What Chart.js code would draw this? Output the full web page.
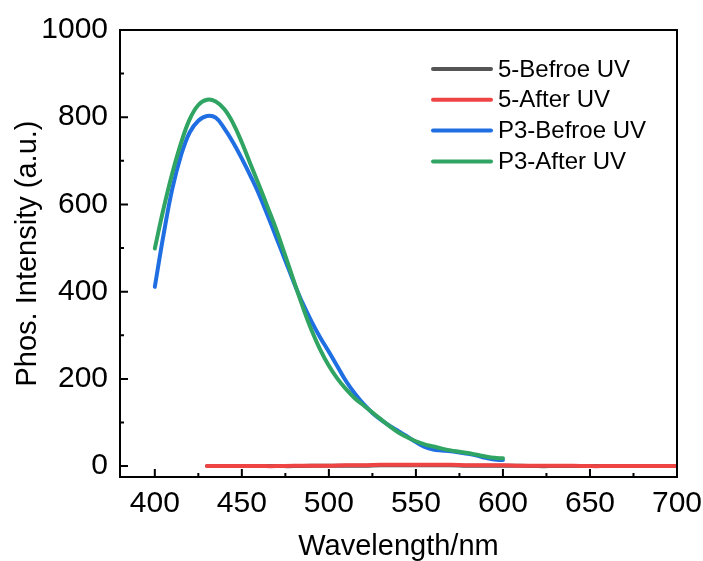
<!DOCTYPE html>
<html>
<head>
<meta charset="utf-8">
<script src="https://cdn.jsdelivr.net/npm/chart.js@4.4.0/dist/chart.umd.min.js"></script>
<style>
  html, body { margin: 0; padding: 0; background: #ffffff; }
  #wrap { width: 703px; height: 561px; position: relative; }
</style>
</head>
<body>
<div id="wrap"><canvas id="c" width="703" height="561"></canvas></div>
<script>
// ---- data ----
const seriesNames = ['5-Befroe UV', '5-After UV', 'P3-Befroe UV', 'P3-After UV'];
const seriesColors = ['#555555', '#ef4444', '#1f6fe3', '#30a462'];

const wl5 = [430, 440, 450, 460, 470, 480, 490, 500, 510, 520, 530, 540, 550, 560, 570, 580, 590, 600, 610, 620, 630, 640, 650, 660, 670, 680, 690, 700];
const before5 = [0, 0, 0, 0, 0, 0, 1, 1, 1, 1, 2, 2, 2, 2, 2, 1, 1, 1, 1, 0, 0, 0, 0, 0, 0, 0, 0, 0];
const after5  = [0, 0, 0, 0, 0, 1, 1, 1, 2, 2, 3, 3, 3, 3, 3, 2, 2, 2, 1, 1, 1, 1, 0, 0, 0, 0, 0, 0];

const wlP3 = [400, 405, 410, 415, 420, 425, 430, 435, 440, 445, 450, 455, 460, 465, 470, 475, 480, 485, 490, 495, 500, 505, 510, 515, 520, 525, 530, 535, 540, 545, 550, 555, 560, 565, 570, 575, 580, 585, 590, 595, 600];
const beforeP3 = [411, 530, 635, 712, 765, 792, 803, 799, 774, 742, 705, 665, 622, 573, 522, 471, 420, 373, 332, 295, 262, 228, 194, 166, 142, 122, 106, 92, 80, 68, 55, 44, 38, 36, 34, 31, 28, 24, 19, 15, 14];
const afterP3  = [499, 590, 671, 740, 795, 828, 840, 836, 818, 786, 742, 692, 643, 592, 540, 482, 423, 365, 312, 267, 230, 200, 176, 155, 139, 123, 107, 91, 77, 66, 57, 50, 45, 40, 36, 33, 30, 26, 22, 19, 18];

const xTickValues = [400, 450, 500, 550, 600, 650, 700];
const xMinorValues = [425, 475, 525, 575, 625, 675];
const yTickValues = [0, 200, 400, 600, 800, 1000];
const yMinorValues = [100, 300, 500, 700, 900];
const xTitle = 'Wavelength/nm';
const yTitle = 'Phos. Intensity (a.u.)';

// ---- build ----
const toPts = (xs, ys) => xs.map((x, i) => ({ x: x, y: ys[i] }));
const seriesX = [wl5, wl5, wlP3, wlP3];
const seriesY = [before5, after5, beforeP3, afterP3];
const drawOrder = [4, 3, 2, 1];

const FONT = "'Liberation Sans', Arial, sans-serif";

const datasets = seriesNames.map((name, i) => ({
  label: name,
  data: toPts(seriesX[i], seriesY[i]),
  borderColor: seriesColors[i],
  backgroundColor: seriesColors[i],
  borderWidth: 4,
  pointRadius: 0,
  fill: false,
  tension: 0.4,
  borderCapStyle: 'round',
  borderJoinStyle: 'round',
  order: drawOrder[i]
}));

const framePlugin = {
  id: 'frame',
  afterDatasetsDraw(chart) {
    const { ctx, chartArea: a, scales } = chart;
    ctx.save();
    ctx.strokeStyle = '#000';
    ctx.lineWidth = 2;
    ctx.lineCap = 'butt';
    const xs = scales.x, ys = scales.y;
    ctx.beginPath();
    xTickValues.forEach(v => { const p = xs.getPixelForValue(v); ctx.moveTo(p, a.bottom); ctx.lineTo(p, a.bottom - 8); });
    xMinorValues.forEach(v => { const p = xs.getPixelForValue(v); ctx.moveTo(p, a.bottom); ctx.lineTo(p, a.bottom - 4); });
    yTickValues.forEach(v => { const p = ys.getPixelForValue(v); ctx.moveTo(a.left, p); ctx.lineTo(a.left + 8, p); });
    yMinorValues.forEach(v => { const p = ys.getPixelForValue(v); ctx.moveTo(a.left, p); ctx.lineTo(a.left + 4, p); });
    ctx.stroke();
    ctx.strokeRect(a.left, a.top, a.right - a.left, a.bottom - a.top);

    // legend
    ctx.font = '24px ' + FONT;
    ctx.textBaseline = 'middle';
    ctx.textAlign = 'left';
    chart.data.datasets.forEach((ds, i) => {
      const y = a.top + 39 + i * 30.8;
      const x0 = a.left + 313;
      ctx.strokeStyle = ds.borderColor;
      ctx.lineWidth = 4;
      ctx.lineCap = 'round';
      ctx.beginPath();
      ctx.moveTo(x0, y);
      ctx.lineTo(x0 + 58, y);
      ctx.stroke();
      ctx.fillStyle = '#000';
      ctx.fillText(ds.label, x0 + 65, y + 1);
    });
    ctx.restore();
  }
};

new Chart(document.getElementById('c'), {
  type: 'line',
  data: { datasets: datasets },
  options: {
    responsive: false,
    animation: false,
    events: [],
    layout: { padding: { top: 30, right: 26, left: 0, bottom: 0 } },
    plugins: { legend: { display: false }, tooltip: { enabled: false } },
    scales: {
      x: {
        type: 'linear',
        min: 380,
        max: 700,
        afterBuildTicks: s => { s.ticks = xTickValues.map(v => ({ value: v })); },
        afterFit: s => { s.height = 84; s.paddingLeft = 0; s.paddingRight = 0; },
        grid: { display: false, drawTicks: false },
        border: { display: false },
        ticks: { color: '#000', font: { family: FONT, size: 30 }, padding: 9, maxRotation: 0, autoSkip: false, callback: v => String(v) },
        title: { display: true, text: xTitle, color: '#000', font: { family: FONT, size: 29, lineHeight: 1 }, padding: { top: 0, bottom: 0 } }
      },
      y: {
        type: 'linear',
        min: -25,
        max: 1000,
        afterBuildTicks: s => { s.ticks = yTickValues.map(v => ({ value: v })); },
        afterFit: s => { s.width = 120; s.paddingTop = 0; s.paddingBottom = 0; },
        grid: { display: false, drawTicks: false },
        border: { display: false },
        ticks: { color: '#000', font: { family: FONT, size: 30 }, padding: 12, autoSkip: false, callback: v => String(v) },
        title: { display: true, text: yTitle, color: '#000', font: { family: FONT, size: 29, lineHeight: 1 }, padding: { top: 13, bottom: 0 } }
      }
    }
  },
  plugins: [framePlugin]
});
</script>
</body>
</html>
